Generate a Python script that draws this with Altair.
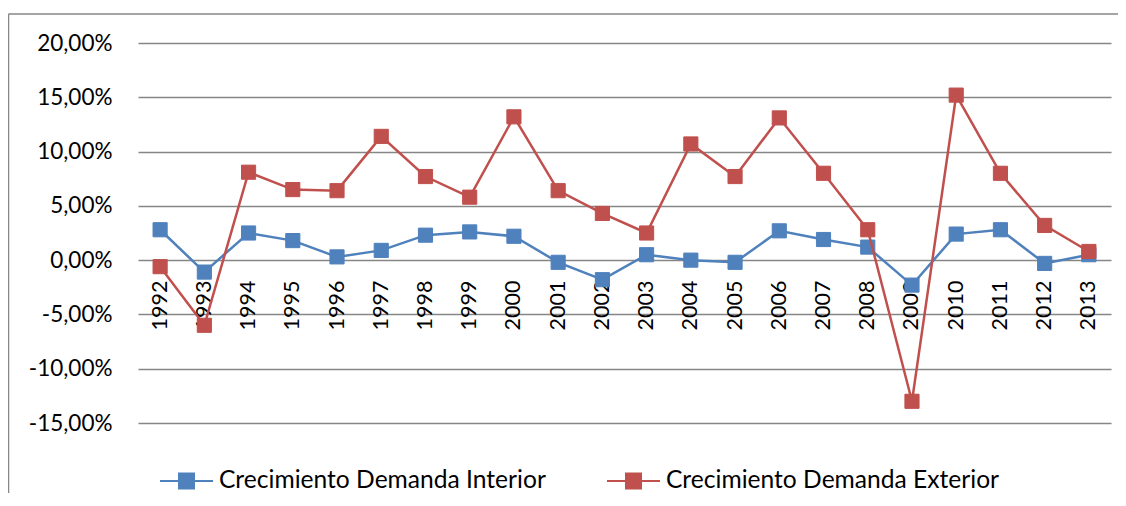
import altair as alt
import pandas as pd

years = [str(y) for y in range(1992, 2014)]
interior = [2.8, -1.1, 2.5, 1.8, 0.3, 0.9, 2.3, 2.6, 2.2, -0.2, -1.8,
            0.5, 0.0, -0.2, 2.7, 1.9, 1.2, -2.3, 2.4, 2.8, -0.3, 0.5]
exterior = [-0.6, -6.0, 8.1, 6.5, 6.4, 11.4, 7.7, 5.8, 13.2, 6.4, 4.3,
            2.5, 10.7, 7.7, 13.1, 8.0, 2.8, -13.0, 15.2, 8.0, 3.2, 0.8]
series_names = ["Crecimiento Demanda Interior", "Crecimiento Demanda Exterior"]
series_colors = ["#4F81BD", "#C0504D"]
y_ticks = [-15, -10, -5, 0, 5, 10, 15, 20]

rows = []
for name, vals in zip(series_names, [interior, exterior]):
    for yr, v in zip(years, vals):
        rows.append({"year": yr, "value": v, "serie": name})
df = pd.DataFrame(rows)

FONT = "Lato"
W, H = 973, 380

x_enc = alt.X("year:O", sort=years, title=None,
              scale=alt.Scale(paddingOuter=0.5),
              axis=alt.Axis(labelAngle=270, domain=False, ticks=False, grid=False,
                            labelPadding=20, offset=-162.9, labelFont=FONT,
                            labelFontSize=21.5, labelColor="#000000"))
y_enc = alt.Y("value:Q", title=None,
              scale=alt.Scale(domain=[-15, 20], nice=False, zero=False),
              axis=alt.Axis(values=y_ticks, domain=False, ticks=False, grid=True,
                            gridColor="#868686", gridWidth=1.5, labelPadding=26,
                            labelFont=FONT, labelFontSize=22.5, labelColor="#000000",
                            labelExpr="(datum.value < 0 ? '-' : '') + replace(format(abs(datum.value), '.2f'), '.', ',') + '%'"))

legend = alt.Legend(title=None, orient="none", legendX=21, legendY=410,
                    direction="horizontal", columns=2, columnPadding=57,
                    symbolType="M-1,0L1,0M-0.283,-0.283L0.283,-0.283L0.283,0.283L-0.283,0.283Z",
                    symbolSize=2809, symbolStrokeWidth=2, labelOffset=5,
                    labelFont=FONT, labelFontSize=24.6, labelColor="#000000",
                    labelLimit=600)

col_scale = alt.Scale(domain=series_names, range=series_colors)

frame_df = pd.DataFrame({"k": [0]})
frame_left = alt.Chart(frame_df).mark_rule(color="#868686", strokeWidth=1.5).encode(
    x=alt.value(-129.5), y=alt.value(-29), y2=alt.value(470))
frame_top = alt.Chart(frame_df).mark_rule(color="#868686", strokeWidth=1.5).encode(
    x=alt.value(-129.5), x2=alt.value(1000), y=alt.value(-29))

layers = [frame_left, frame_top]
for name in series_names:
    base = alt.Chart(df).transform_filter(alt.datum.serie == name)
    line = base.mark_line(strokeWidth=2.5).encode(
        x=x_enc, y=y_enc,
        stroke=alt.Stroke("serie:N", scale=col_scale, legend=legend))
    pts = base.mark_point(filled=True, shape="square", size=200, opacity=1,
                          strokeWidth=1).encode(
        x=x_enc, y=y_enc,
        color=alt.Color("serie:N", scale=col_scale, legend=legend),
        stroke=alt.Stroke("serie:N", scale=col_scale, legend=legend))
    layers += [line, pts]

chart = alt.layer(*layers).properties(
    width=W, height=H,
    padding={"left": 130, "top": 35, "right": 7, "bottom": 70},
    autosize=alt.AutoSizeParams(type="none"),
    background="#ffffff",
).configure_view(stroke=None)

chart.save("out.html", embed_options={"renderer": "svg", "actions": False})
